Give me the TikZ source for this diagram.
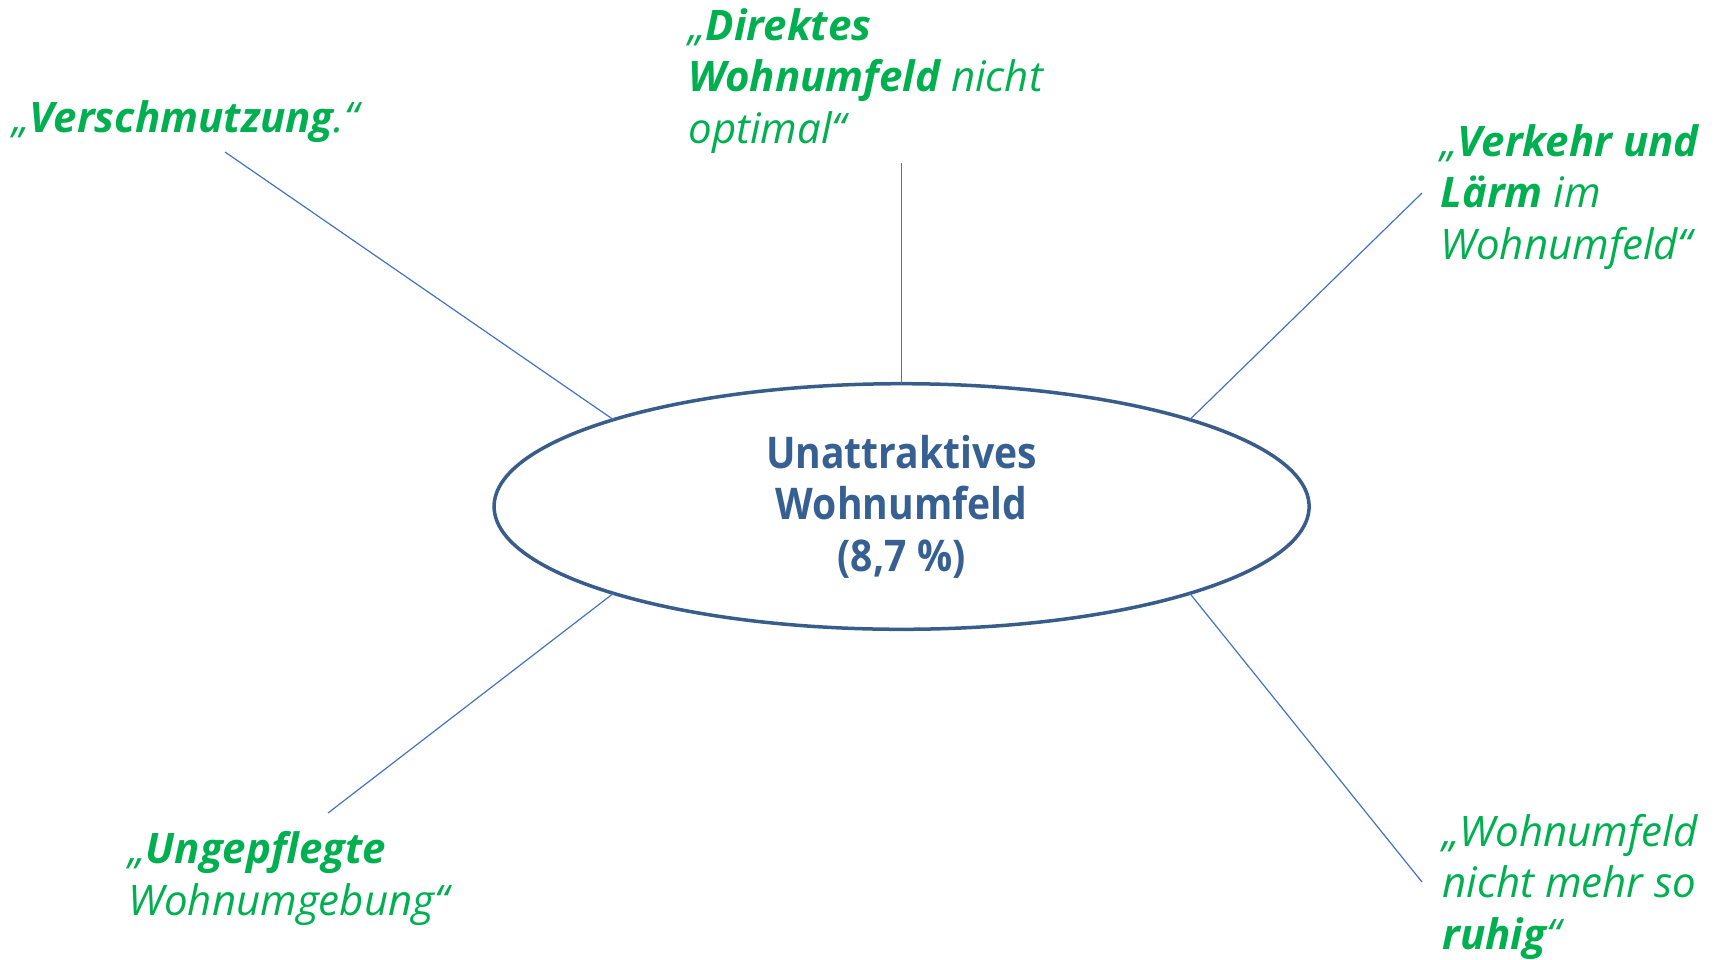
\documentclass[tikz,border=0pt]{standalone}
\usepackage{graphicx}
\usepackage{fontspec}
\setmainfont{Open Sans}
\usetikzlibrary{shapes.geometric}
\definecolor{qgreen}{RGB}{0,176,80}
\definecolor{ellblue}{RGB}{56,93,138}
\definecolor{txtblue}{RGB}{55,96,146}
\definecolor{lineblue}{RGB}{68,114,196}
\newcommand{\narrowtxt}[1]{\scalebox{0.93}[1.04]{#1}}
\begin{document}
\begin{tikzpicture}[x=0.5pt,y=-0.5pt,
  quote/.style={anchor=base west, inner sep=0pt, text=qgreen, font=\fontsize{21}{25.75}\selectfont\itshape, align=left},
  conn/.style={draw=lineblue, line width=0.6pt}]
\useasboundingbox (0,0) rectangle (1719,959);
\node[ellipse, draw=ellblue, line width=1.75pt, minimum width=407.5pt, minimum height=122.8pt, inner sep=0pt,
  text=txtblue, font=\fontsize{21}{25.75}\selectfont\bfseries, align=center] (ell) at (901.6,506.5)
  {\narrowtxt{Unattraktives}\\\narrowtxt{Wohnumfeld}\\\narrowtxt{(8,7~\%)}};
\path (ell.center) ++(135:203.75pt and 61.4pt) coordinate (e1);
\path (ell.center) ++(90:203.75pt and 61.4pt) coordinate (e2);
\path (ell.center) ++(45:203.75pt and 61.4pt) coordinate (e3);
\path (ell.center) ++(-45:203.75pt and 61.4pt) coordinate (e4);
\path (ell.center) ++(-135:203.75pt and 61.4pt) coordinate (e5);
\coordinate (c1) at (225,152);
\coordinate (c2) at (901.6,163);
\coordinate (c3) at (1422,193);
\coordinate (c4) at (1422,882);
\coordinate (c5) at (328,813);
\draw[conn] (c1) -- (e1);
\draw[conn] (c2) -- (e2);
\draw[conn] (c3) -- (e3);
\draw[conn] (c4) -- (e4);
\draw[conn] (c5) -- (e5);
\node[quote] (t1) at (12,132) {„\textbf{Verschmutzung}.“};
\node[quote] (t2) at (688,143) {„\textbf{Direktes}\\\textbf{Wohnumfeld} nicht\\optimal“};
\node[quote] (t3) at (1440,259) {„\textbf{Verkehr und}\\\textbf{Lärm} im\\Wohnumfeld“};
\node[quote] (t4) at (1442,949) {„Wohnumfeld\\nicht mehr so\\\textbf{ruhig}“};
\node[quote] (t5) at (128,915) {„\textbf{Ungepflegte}\\Wohnumgebung“};
\end{tikzpicture}
\end{document}
